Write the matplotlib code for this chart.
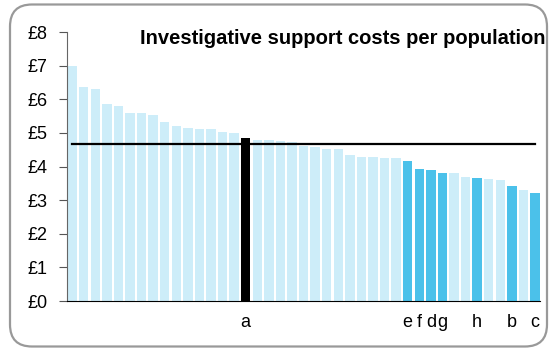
import numpy as np
import matplotlib.pyplot as plt
from matplotlib.patches import FancyBboxPatch
from matplotlib.transforms import IdentityTransform

plt.rcParams['font.family'] = ['Liberation Sans', 'DejaVu Sans']

# costs per population, sorted, one bar per force
costs = [7.00, 6.35, 6.32, 5.87, 5.79, 5.59, 5.59, 5.53, 5.33, 5.21,
         5.15, 5.12, 5.12, 5.03, 5.00, 4.85, 4.80, 4.79, 4.76, 4.73,
         4.61, 4.59, 4.53, 4.53, 4.35, 4.28, 4.28, 4.26, 4.24, 4.17,
         3.93, 3.90, 3.82, 3.80, 3.70, 3.66, 3.64, 3.60, 3.42, 3.30,
         3.22]
# label under each bar ("" = none); "a" is highlighted, the others are the comparison group
names = [""] * 41
for i, n in zip([15, 29, 30, 31, 32, 35, 38, 40], ["a", "e", "f", "d", "g", "h", "b", "c"]):
    names[i] = n
average = 4.68
yticks = [0, 1, 2, 3, 4, 5, 6, 7, 8]
ytick_labels = ["£" + str(v) for v in yticks]

light, dark = "#cdedf9", "#4bc1ea"
colors = []
for n in names:
    if n == "a":
        colors.append("black")
    elif n:
        colors.append(dark)
    else:
        colors.append(light)

fig = plt.figure(figsize=(5.49, 3.48), dpi=100)
ax = fig.add_axes([0.122, 0.135, 0.862, 0.773])

x = np.arange(len(costs))
ax.bar(x, costs, width=0.82, color=colors)
ax.plot([0, len(costs) - 1], [average, average], color="black", lw=1.6)

ax.set_xlim(-0.45, len(costs) - 0.55)
ax.set_ylim(0, 8)
ax.set_yticks(yticks)
ax.set_yticklabels(ytick_labels, fontsize=13)
ax.set_xticks(x)
ax.set_xticklabels(names, fontsize=13)
ax.tick_params(axis="x", length=0, pad=9)
ax.tick_params(axis="y", length=6, color="#555555", pad=8)

for s in ["top", "right"]:
    ax.spines[s].set_visible(False)
ax.spines["left"].set_color("#666666")
ax.spines["bottom"].set_color("black")

fig.text(0.993, 0.874, "Investigative support costs per population",
         ha="right", va="baseline", fontsize=14.5, fontweight="bold")

frame = FancyBboxPatch((10, 1.5), 537, 342, boxstyle="round,pad=0,rounding_size=22",
                       transform=IdentityTransform(), fill=False,
                       edgecolor="#999999", lw=1.6)
fig.patches.append(frame)

fig.savefig("out.png", dpi=100)
